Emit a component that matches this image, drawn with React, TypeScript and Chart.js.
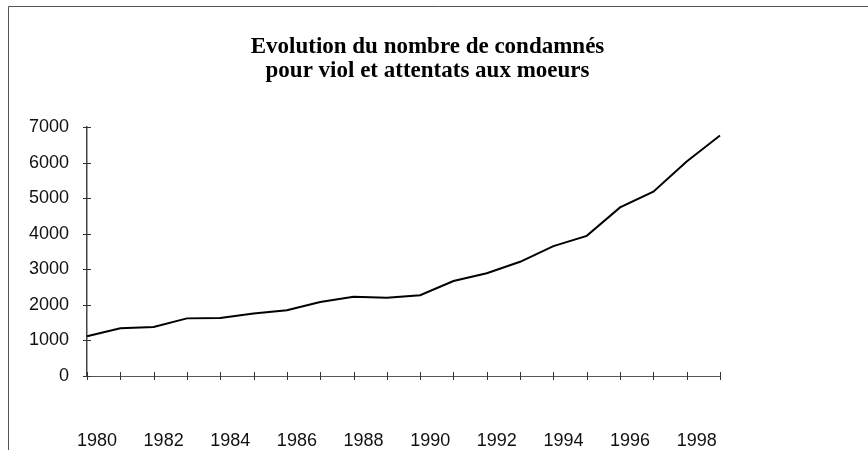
import React, { useEffect, useRef } from "react";
import { Chart, registerables } from "chart.js";

Chart.register(...registerables);

const years = [
  "1980", "1981", "1982", "1983", "1984", "1985", "1986", "1987", "1988", "1989",
  "1990", "1991", "1992", "1993", "1994", "1995", "1996", "1997", "1998", "1999",
];
const condamnes = [
  1120, 1340, 1380, 1620, 1630, 1760, 1850, 2080, 2230, 2200,
  2270, 2670, 2890, 3210, 3650, 3940, 4740, 5180, 6030, 6760,
];
const yTicks = [0, 1000, 2000, 3000, 4000, 5000, 6000, 7000];
const titleLines = ["Evolution du nombre de condamnés", "pour viol et attentats aux moeurs"];

const frame = {
  id: "frame",
  beforeDraw(chart: any) {
    const ctx = chart.ctx;
    ctx.save();
    ctx.fillStyle = "#ffffff";
    ctx.fillRect(0, 0, chart.width, chart.height);
    ctx.strokeStyle = "#555";
    ctx.lineWidth = 1;
    ctx.beginPath();
    ctx.moveTo(8.5, chart.height);
    ctx.lineTo(8.5, 6.5);
    ctx.lineTo(chart.width, 6.5);
    ctx.stroke();
    ctx.restore();
  },
};

const crossTicks = {
  id: "crossTicks",
  afterDraw(chart: any) {
    const { ctx } = chart;
    const x = chart.scales.x;
    const y = chart.scales.y;
    ctx.save();
    ctx.strokeStyle = "#333";
    ctx.lineWidth = 1;
    const y0 = y.getPixelForValue(0);
    for (let i = 0; i < years.length; i++) {
      const px = Math.round(x.getPixelForValue(i)) + 0.5;
      ctx.beginPath();
      ctx.moveTo(px, y0 - 4);
      ctx.lineTo(px, y0 + 4);
      ctx.stroke();
    }
    const x0 = x.left;
    for (const v of yTicks) {
      const py = Math.round(y.getPixelForValue(v)) + 0.5;
      ctx.beginPath();
      ctx.moveTo(x0 - 4, py);
      ctx.lineTo(x0 + 4, py);
      ctx.stroke();
    }
    ctx.restore();
  },
};

export default function App() {
  const ref = useRef<HTMLCanvasElement | null>(null);

  useEffect(() => {
    document.body.style.margin = "0";
    const canvas = ref.current;
    if (!canvas) return;
    const labelFont = { family: "'Liberation Sans', Arial, sans-serif", size: 18 };
    const chart = new Chart(canvas, {
      type: "line",
      data: {
        labels: years,
        datasets: [
          {
            data: condamnes,
            borderColor: "#000",
            borderWidth: 2,
            pointRadius: 0,
            tension: 0,
            fill: false,
            yAxisID: "y",
          },
        ],
      },
      options: {
        responsive: false,
        animation: false,
        devicePixelRatio: 1,
        layout: { padding: { left: 8, right: 21, top: 0, bottom: 0 } },
        plugins: {
          legend: { display: false },
          tooltip: { enabled: false },
          title: {
            display: true,
            text: titleLines,
            color: "#000",
            font: { family: "'Liberation Serif', 'Times New Roman', serif", size: 23, weight: "bold", lineHeight: 1.05 },
            padding: { top: 35, bottom: 43.7 },
          },
        },
        scales: {
          x: {
            type: "category",
            offset: false,
            grid: { display: false },
            border: { display: true, color: "#555", width: 1 },
            ticks: {
              autoSkip: false,
              maxRotation: 0,
              minRotation: 0,
              padding: 46,
              labelOffset: 10,
              color: "#111",
              font: labelFont,
              callback: (_v: any, i: number) => (i % 2 === 0 ? years[i] : ""),
            },
            afterFit: (s: any) => {
              s.height = 74;
            },
          },
          y: {
            type: "linear",
            position: "left",
            min: 0,
            max: 7000,
            grid: { display: false },
            border: { display: true, color: "#444", width: 1.5 },
            ticks: {
              stepSize: 1000,
              padding: 10,
              color: "#111",
              font: labelFont,
              callback: (v: any) => String(v),
            },
            afterFit: (s: any) => {
              s.width = 79;
            },
          },
          y2: {
            type: "linear",
            position: "right",
            display: true,
            grid: { display: false },
            border: { display: false },
            ticks: { display: false },
            afterFit: (s: any) => {
              s.width = 127;
            },
          },
        },
      },
      plugins: [frame, crossTicks],
    });
    return () => chart.destroy();
  }, []);

  return (
    <div style={{ width: 868, height: 450 }}>
      <canvas ref={ref} width={868} height={450} style={{ display: "block" }} />
    </div>
  );
}
